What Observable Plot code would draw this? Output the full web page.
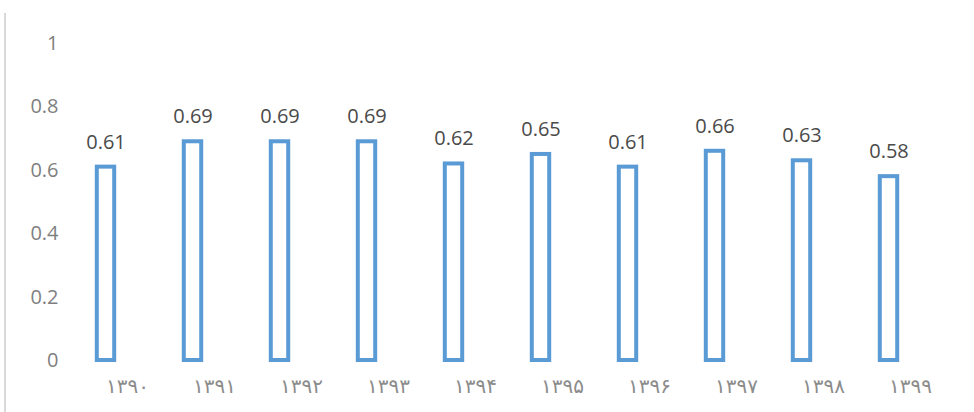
<!DOCTYPE html>
<html>
<head>
<meta charset="utf-8">
<script src="https://cdn.jsdelivr.net/npm/d3@7"></script>
<script src="https://cdn.jsdelivr.net/npm/@observablehq/plot@0.6"></script>
<style>
  html, body { margin: 0; padding: 0; background: #fff; }
  #wrap { position: relative; width: 974px; height: 412px; overflow: hidden; }
  #border { position: absolute; left: 4px; top: 13px; bottom: 0; width: 2px; background: #d9d9d9; }
  #chart { position: absolute; left: 0; top: 0; }
  .xlab text { letter-spacing: 4px; }
</style>
</head>
<body>
<div id="wrap"><div id="border"></div><div id="chart"></div></div>
<script>
const years = ["۱۳۹۰", "۱۳۹۱", "۱۳۹۲", "۱۳۹۳", "۱۳۹۴", "۱۳۹۵", "۱۳۹۶", "۱۳۹۷", "۱۳۹۸", "۱۳۹۹"];
const values = [0.61, 0.69, 0.69, 0.69, 0.62, 0.65, 0.61, 0.66, 0.63, 0.58];
const yTicks = [0, 0.2, 0.4, 0.6, 0.8, 1];

const data = years.map((year, i) => ({year, value: values[i]}));

const chart = Plot.plot({
  width: 974,
  height: 412,
  marginLeft: 59,
  marginRight: 39,
  marginTop: 43,
  marginBottom: 52,
  style: {fontFamily: "'Open Sans', 'DejaVu Sans', sans-serif", background: "transparent"},
  x: {domain: years, padding: 0},
  y: {domain: [0, 1]},
  marks: [
    Plot.axisY({
      ticks: yTicks,
      tickSize: 0,
      tickPadding: 1,
      tickFormat: d => String(+d.toFixed(1)),
      fontSize: 20,
      fill: "#7f7f7f",
      label: null
    }),
    Plot.axisX({
      tickSize: 0,
      tickPadding: 18,
      textAnchor: "start",
      fontSize: 20,
      fill: "#8c8c8c",
      fontFamily: "'DejaVu Sans', sans-serif",
      className: "xlab",
      label: null
    }),
    Plot.barY(data, {
      x: "year",
      y: "value",
      fill: "#ffffff",
      stroke: "#5b9bd5",
      strokeWidth: 4,
      insetLeft: 34.8,
      insetRight: 34.8
    }),
    Plot.text(data, {
      x: "year",
      y: "value",
      text: d => d3.format(".2f")(d.value),
      dy: -25,
      fontSize: 20,
      fill: "#4a4a4a"
    })
  ]
});
document.getElementById("chart").appendChild(chart);
</script>
</body>
</html>
